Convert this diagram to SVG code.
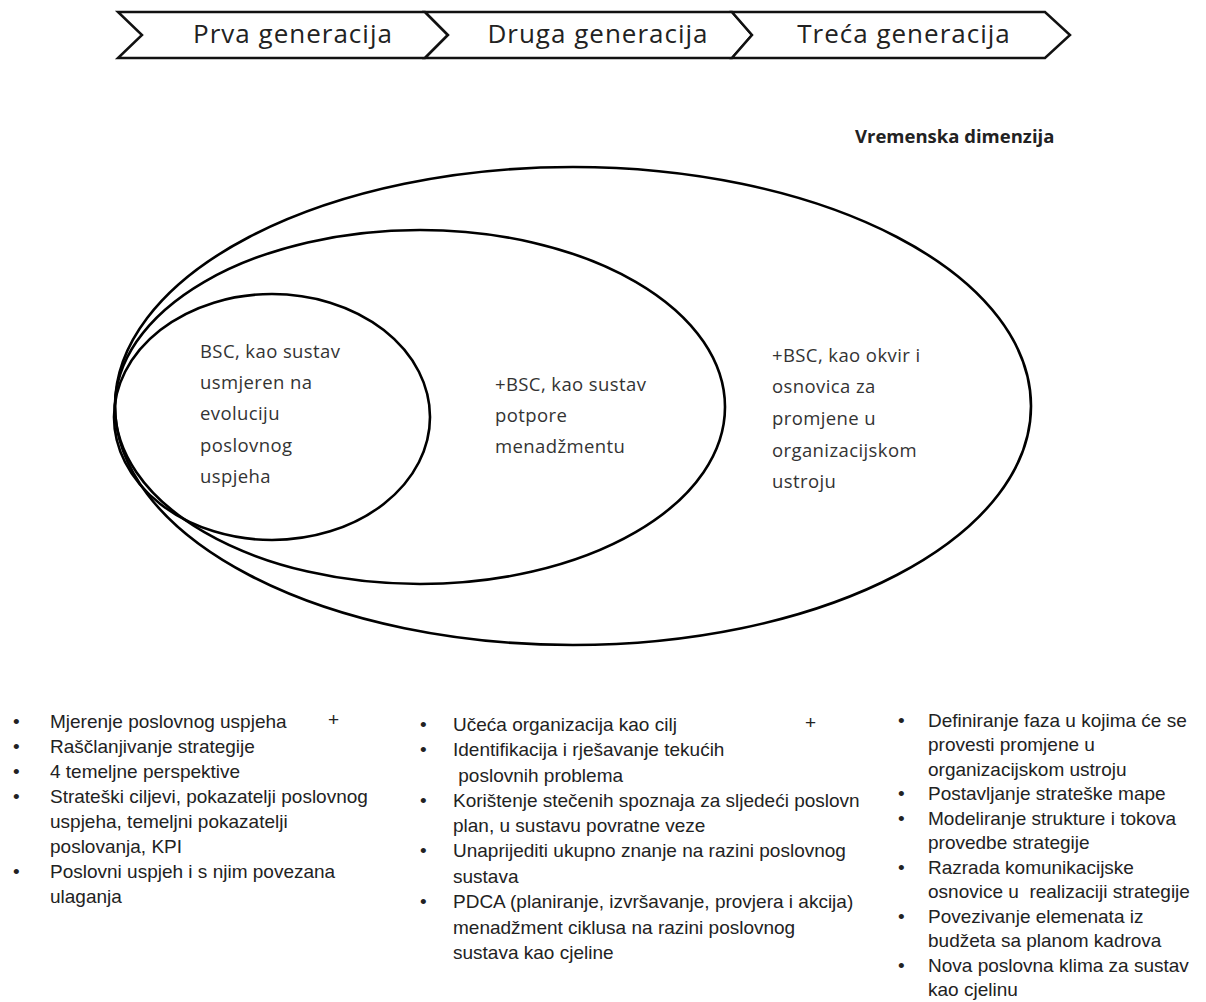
<svg xmlns="http://www.w3.org/2000/svg" width="1206" height="1002" viewBox="0 0 1206 1002">
<style>
.chev{fill:#fff;stroke:#111;stroke-width:2.5;stroke-linejoin:miter}
.ell{fill:none;stroke:#000;stroke-width:2.6}
.ct{font-family:"Open Sans","Noto Sans",sans-serif;font-size:26px;fill:#222;text-anchor:middle;letter-spacing:1px}
.et{font-family:"Open Sans","Noto Sans",sans-serif;font-size:18.5px;fill:#333;letter-spacing:0.4px}
.vt{font-family:"Open Sans","Noto Sans",sans-serif;font-size:18.5px;font-weight:bold;fill:#222}
.lt{font-family:"Liberation Sans",Arial,sans-serif;font-size:19px;fill:#222;white-space:pre}
</style>
<rect width="1206" height="1002" fill="#fff"/>
<g id="chevrons">
<g id="gen1"><polygon class="chev" points="118,12 425,12 448,35 425,58 118,58 142,35"/><text class="ct" x="293" y="43">Prva generacija</text></g>
<g id="gen2"><polygon class="chev" points="425,12 732,12 752,35 732,58 425,58 448,35"/><text class="ct" x="598" y="43">Druga generacija</text></g>
<g id="gen3"><polygon class="chev" points="732,12 1045,12 1070,35 1045,58 732,58 752,35"/><text class="ct" x="904" y="43">Treća generacija</text></g>
</g>
<text class="vt" x="855" y="143">Vremenska dimenzija</text>
<g id="outer"><ellipse class="ell" cx="573" cy="406" rx="458" ry="239"/>
<text class="et" x="772"><tspan x="772" y="362">+BSC, kao okvir i</tspan><tspan x="772" y="393">osnovica za</tspan><tspan x="772" y="425">promjene u</tspan><tspan x="772" y="457">organizacijskom</tspan><tspan x="772" y="488">ustroju</tspan></text></g>
<g id="middle"><ellipse class="ell" cx="420" cy="407" rx="305" ry="177"/>
<text class="et"><tspan x="495" y="391">+BSC, kao sustav</tspan><tspan x="495" y="422">potpore</tspan><tspan x="495" y="453">menadžmentu</tspan></text></g>
<g id="inner"><ellipse class="ell" cx="272" cy="417" rx="158" ry="123"/>
<text class="et"><tspan x="200" y="358">BSC, kao sustav</tspan><tspan x="200" y="389">usmjeren na</tspan><tspan x="200" y="420">evoluciju</tspan><tspan x="200" y="452">poslovnog</tspan><tspan x="200" y="483">uspjeha</tspan></text></g>
<g id="connectors"></g>
<g id="list1">
<text class="lt"><tspan x="13" y="728">•</tspan><tspan x="13" y="753">•</tspan><tspan x="13" y="778">•</tspan><tspan x="13" y="803">•</tspan><tspan x="13" y="878">•</tspan></text>
<text class="lt"><tspan x="50" y="728">Mjerenje poslovnog uspjeha</tspan><tspan x="50" y="753">Raščlanjivanje strategije</tspan><tspan x="50" y="778">4 temeljne perspektive</tspan><tspan x="50" y="803">Strateški ciljevi, pokazatelji poslovnog</tspan><tspan x="50" y="828">uspjeha, temeljni pokazatelji</tspan><tspan x="50" y="853">poslovanja, KPI</tspan><tspan x="50" y="878">Poslovni uspjeh i s njim povezana</tspan><tspan x="50" y="903">ulaganja</tspan></text>
<text class="lt" x="328" y="726" font-size="15">+</text>
</g>
<g id="list2">
<text class="lt"><tspan x="420" y="731">•</tspan><tspan x="420" y="756">•</tspan><tspan x="420" y="807">•</tspan><tspan x="420" y="857">•</tspan><tspan x="420" y="908">•</tspan></text>
<text class="lt"><tspan x="453" y="731">Učeća organizacija kao cilj</tspan><tspan x="453" y="756">Identifikacija i rješavanje tekućih</tspan><tspan x="453" y="782"> poslovnih problema</tspan><tspan x="453" y="807">Korištenje stečenih spoznaja za sljedeći poslovn</tspan><tspan x="453" y="832">plan, u sustavu povratne veze</tspan><tspan x="453" y="857">Unaprijediti ukupno znanje na razini poslovnog</tspan><tspan x="453" y="883">sustava</tspan><tspan x="453" y="908">PDCA (planiranje, izvršavanje, provjera i akcija)</tspan><tspan x="453" y="934">menadžment ciklusa na razini poslovnog</tspan><tspan x="453" y="959">sustava kao cjeline</tspan></text>
<text class="lt" x="805" y="729" font-size="15">+</text>
</g>
<g id="list3">
<text class="lt"><tspan x="898" y="727">•</tspan><tspan x="898" y="800">•</tspan><tspan x="898" y="825">•</tspan><tspan x="898" y="874">•</tspan><tspan x="898" y="923">•</tspan><tspan x="898" y="972">•</tspan></text>
<text class="lt"><tspan x="928" y="727">Definiranje faza u kojima će se</tspan><tspan x="928" y="751">provesti promjene u</tspan><tspan x="928" y="776">organizacijskom ustroju</tspan><tspan x="928" y="800">Postavljanje strateške mape</tspan><tspan x="928" y="825">Modeliranje strukture i tokova</tspan><tspan x="928" y="849">provedbe strategije</tspan><tspan x="928" y="874">Razrada komunikacijske</tspan><tspan x="928" y="898">osnovice u  realizaciji strategije</tspan><tspan x="928" y="923">Povezivanje elemenata iz</tspan><tspan x="928" y="947">budžeta sa planom kadrova</tspan><tspan x="928" y="972">Nova poslovna klima za sustav</tspan><tspan x="928" y="996">kao cjelinu</tspan></text>
</g>
</svg>
